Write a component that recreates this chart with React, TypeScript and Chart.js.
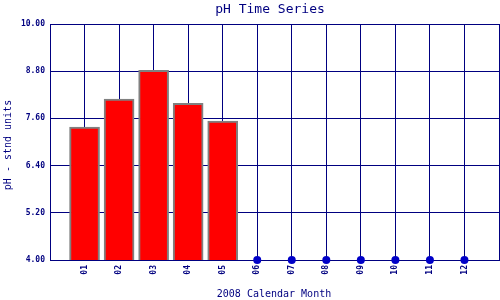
import React, { useEffect, useRef } from "react";
import { Chart, registerables } from "chart.js";

Chart.register(...registerables);

const months = ["", "01", "02", "03", "04", "05", "06", "07", "08", "09", "10", "11", "12", ""];
const phValues = [null, 7.38, 8.09, 8.82, 7.98, 7.53, null, null, null, null, null, null, null, null];
const noDataMarks = [null, null, null, null, null, null, 4.0, 4.0, 4.0, 4.0, 4.0, 4.0, 4.0, null];
const yTicks = [4.0, 5.2, 6.4, 7.6, 8.8, 10.0];

const NAVY = "#000080";
const FONT = "'DejaVu Sans Mono', monospace";

const textPlugin = {
  id: "texts",
  afterDraw(chart: any) {
    const ctx = chart.ctx;
    ctx.save();
    ctx.fillStyle = NAVY;
    ctx.textAlign = "center";
    ctx.textBaseline = "alphabetic";
    ctx.font = `13px ${FONT}`;
    ctx.fillText("pH Time Series", 270, 13);
    ctx.font = `10px ${FONT}`;
    ctx.fillText("2008 Calendar Month", 274, 297);
    ctx.translate(11, 145);
    ctx.rotate(-Math.PI / 2);
    ctx.fillText("pH - stnd units", 0, 0);
    ctx.restore();
  },
};

export default function App() {
  const ref = useRef<HTMLCanvasElement>(null);
  useEffect(() => {
    document.body.style.margin = "0";
    const chart = new Chart(ref.current!, {
      type: "bar",
      data: {
        labels: months,
        datasets: [
          {
            type: "bar",
            data: phValues as any,
            backgroundColor: "#ff0000",
            borderColor: "#808080",
            borderWidth: 2,
            barThickness: 30,
          },
          {
            type: "line",
            data: noDataMarks as any,
            showLine: false,
            pointRadius: 4,
            pointBackgroundColor: "#0000c8",
            pointBorderColor: "#0000c8",
            pointBorderWidth: 0,
            clip: false as any,
          },
        ],
      },
      options: {
        animation: false,
        responsive: false,
        layout: { autoPadding: false, padding: { top: 24, right: 1, left: 0, bottom: 0 } },
        plugins: { legend: { display: false }, tooltip: { enabled: false }, title: { display: false } },
        scales: {
          x: {
            type: "category",
            offset: false,
            grid: { color: NAVY, lineWidth: 1, drawTicks: false, offset: false },
            border: { color: NAVY, width: 1 },
            ticks: {
              color: NAVY,
              font: { family: FONT, size: 8, weight: "bold" },
              minRotation: 90,
              maxRotation: 90,
              autoSkip: false,
              padding: 5,
            },
            afterFit: (s: any) => {
              s.height = 40;
              s.paddingLeft = 0;
              s.paddingRight = 0;
            },
          },
          y: {
            min: 4,
            max: 10,
            grid: { color: NAVY, lineWidth: 1, drawTicks: false },
            border: { color: NAVY, width: 1 },
            ticks: {
              color: NAVY,
              font: { family: FONT, size: 8, weight: "bold" },
              padding: 5,
              callback: (v: any) => Number(v).toFixed(2),
            },
            afterBuildTicks: (s: any) => {
              s.ticks = yTicks.map((v) => ({ value: v }));
            },
            afterFit: (s: any) => {
              s.width = 50;
              s.paddingTop = 0;
              s.paddingBottom = 0;
            },
          },
        },
      },
      plugins: [textPlugin],
    });
    return () => chart.destroy();
  }, []);
  return <canvas ref={ref} width={500} height={300} style={{ display: "block" }} />;
}
